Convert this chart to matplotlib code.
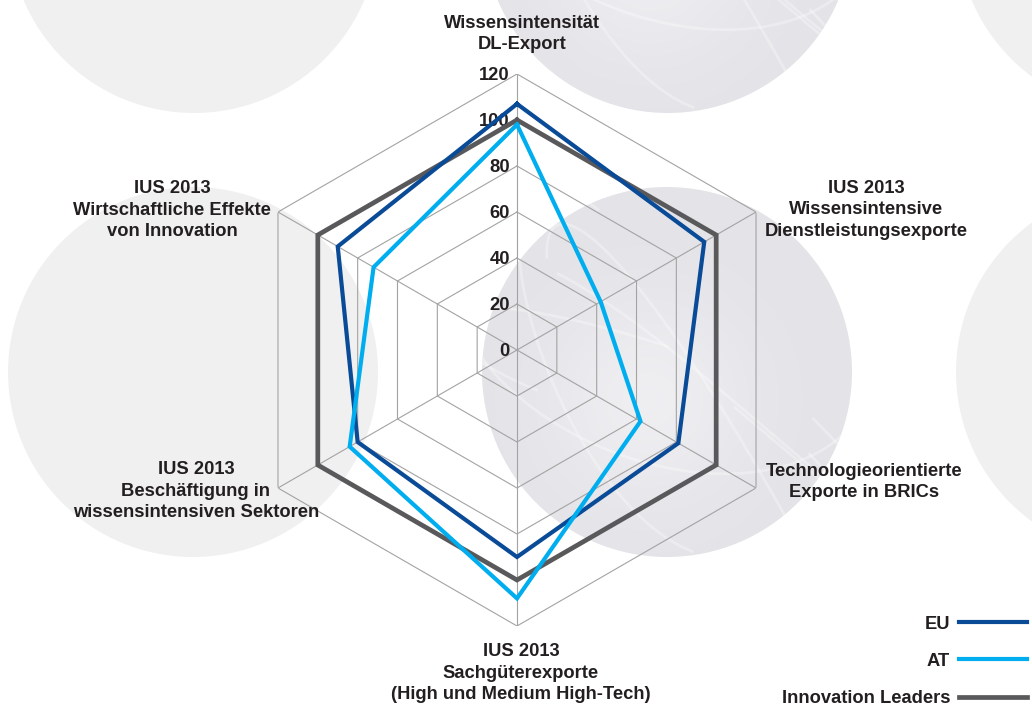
import numpy as np
import matplotlib
matplotlib.use("Agg")
import matplotlib.pyplot as plt
from matplotlib import transforms
from matplotlib.patches import Circle
from matplotlib.lines import Line2D

# ---------------- data ----------------
categories = [
    "Wissensintensität\nDL-Export",
    "IUS 2013\nWissensintensive\nDienstleistungsexporte",
    "Technologieorientierte\nExporte in BRICs",
    "IUS 2013\nSachgüterexporte\n(High und Medium High-Tech)",
    "IUS 2013\nBeschäftigung in\nwissensintensiven Sektoren",
    "IUS 2013\nWirtschaftliche Effekte\nvon Innovation",
]
eu_values = [107, 94, 81, 90, 80, 90]
at_values = [98, 42, 62, 108, 84, 72]
il_values = [100, 100, 100, 100, 100, 100]
series_names = ["EU", "AT", "Innovation Leaders"]
tick_values = [0, 20, 40, 60, 80, 100, 120]

colors = {"EU": "#0a4b97", "AT": "#00aeef", "Innovation Leaders": "#59595b"}
widths = {"EU": 3.0, "AT": 3.0, "Innovation Leaders": 3.4}

FONT = ["Liberation Sans Narrow", "Liberation Sans", "DejaVu Sans"]
plt.rcParams["font.family"] = FONT
plt.rcParams["font.weight"] = "bold"
FS = 13.2
TXT = "#231f20"

W, H = 1032, 707
fig = plt.figure(figsize=(W / 100, H / 100), dpi=100)
fig.patch.set_facecolor("white")

# ---------------- decorative background circles ----------------
bg = fig.add_axes([0, 0, 1, 1], zorder=0)
bg.set_axis_off()
plain = "#f0f0f0"
tex = "#e4e3e8"
circles = [
    ((194, -72), 185, plain),
    ((668, -72), 185, tex),
    ((1142, -72), 185, plain),
    ((193, 372), 185, plain),
    ((667, 372), 185, tex),
    ((1141, 372), 185, plain),
]
for (ccx, ccy), r, c in circles:
    circ = Circle((ccx, ccy), r, facecolor=c, edgecolor="none", zorder=0.2)
    bg.add_patch(circ)
    if c == tex:
        # soft light glow + faint streaks for texture
        yy, xx = np.mgrid[-1:1:200j, -1:1:200j]
        glow = np.exp(-((xx + 0.1) ** 2 + (yy - 0.15) ** 2) / 0.3)
        img = np.ones((200, 200, 4))
        img[..., 3] = 0.4 * glow
        im = bg.imshow(img, extent=(ccx - r, ccx + r, ccy + r, ccy - r),
                       interpolation="bilinear", zorder=0.5, aspect="auto")
        im.set_clip_path(circ)
        t = np.linspace(0, 1, 200)
        for a, b, ph, s in [(1.1, 0.55, 0.3, 0.5), (0.8, 1.0, 1.4, 0.45), (1.2, 0.35, 2.2, 0.4),
                            (0.65, 0.8, 3.1, 0.5), (0.9, 0.6, 4.0, 0.45), (1.3, 0.9, 5.0, 0.35)]:
            xs = ccx + r * a * np.cos(2 * np.pi * t * s + ph)
            ys = ccy + r * b * np.sin(2 * np.pi * t * s * 1.2 + ph * 1.3)
            ln, = bg.plot(xs, ys, color="white", lw=2.0, alpha=0.3, zorder=0.6)
            ln.set_clip_path(circ)

bg.set_xlim(0, W)
bg.set_ylim(H, 0)

# ---------------- radar axes ----------------
cx, cy, R = 517, 350, 276
ax = fig.add_axes([(cx - R) / W, (H - cy - R) / H, 2 * R / W, 2 * R / H],
                  projection="polar", zorder=1)
ax.set_facecolor("none")
ax.set_theta_zero_location("N")
ax.set_theta_direction(-1)
ax.set_ylim(0, 120)
ax.grid(False)
ax.spines["polar"].set_visible(False)
ax.set_xticks([])
ax.set_yticks([])

n = len(categories)
angles = np.linspace(0, 2 * np.pi, n, endpoint=False)
closed = np.concatenate([angles, angles[:1]])

grid_color = "#a3a3a3"
for v in tick_values[1:]:
    ax.plot(closed, [v] * (n + 1), color=grid_color, lw=0.8, zorder=1)
for a in angles:
    ax.plot([a, a], [0, tick_values[-1]], color=grid_color, lw=0.8, zorder=1)

def offs(dx, dy):
    return transforms.offset_copy(ax.transData, fig=fig, x=dx, y=dy, units="dots")

for v in tick_values:
    ax.text(0, v, str(v), transform=offs(-7, -1), ha="right", va="center",
            fontsize=FS, fontweight="bold", color=TXT, zorder=2)

label_offsets = [(5, 40), (110, 2), (108, 6), (4, -47), (-82, -3), (-106, 2)]
for a, lab, (dx, dy) in zip(angles, categories, label_offsets):
    ax.text(a, 120, lab, transform=offs(dx, dy), ha="center", va="center",
            multialignment="center", fontsize=FS, fontweight="bold",
            color=TXT, linespacing=1.37, zorder=2)

series = {"EU": eu_values, "AT": at_values, "Innovation Leaders": il_values}
handles = []
for name in series_names:
    vals = series[name]
    ax.plot(closed, vals + vals[:1], color=colors[name], lw=widths[name],
            solid_joinstyle="miter", zorder=3 if name != "Innovation Leaders" else 2.5)
    handles.append(Line2D([], [], color=colors[name], lw=widths[name]))

# ---------------- legend ----------------
fig.legend(handles, series_names, loc="lower right",
           bbox_to_anchor=(1027 / W, 0.0), markerfirst=False, frameon=False,
           prop={"family": FONT, "weight": "bold", "size": FS},
           handlelength=3.7, handletextpad=0.5, labelspacing=1.1,
           borderpad=0.0, borderaxespad=0.0)
for t in fig.legends[0].get_texts():
    t.set_color(TXT)

fig.savefig("out.png", dpi=100)
